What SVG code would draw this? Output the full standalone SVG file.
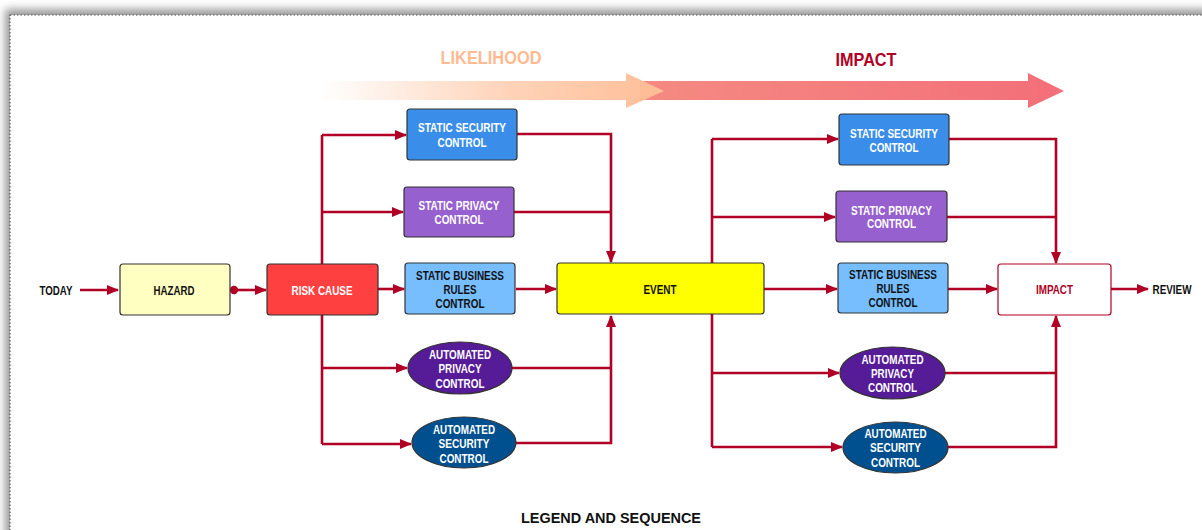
<svg xmlns="http://www.w3.org/2000/svg" width="1202" height="530" viewBox="0 0 1202 530">
  <defs>
    <style>
      .lbl { font-family: "Liberation Sans", Arial, sans-serif; font-weight: bold; font-size: 12.5px; text-anchor: middle; }
      .w { fill: #ffffff; }
      .k { fill: #111111; }
      .box { stroke: #333333; stroke-width: 1.2; }
      .wire { fill: none; stroke: #B00025; stroke-width: 2.6; }
      .arr { marker-end: url(#head); }
    </style>
    <marker id="head" markerUnits="userSpaceOnUse" markerWidth="12" markerHeight="10" refX="11" refY="5" orient="auto">
      <path d="M0,0 L12,5 L0,10 z" fill="#B00025"/>
    </marker>
    <linearGradient id="likeGrad" x1="320" y1="0" x2="664" y2="0" gradientUnits="userSpaceOnUse">
      <stop offset="0" stop-color="#FFC09A" stop-opacity="0"/>
      <stop offset="0.55" stop-color="#FFC09A" stop-opacity="0.7"/>
      <stop offset="1" stop-color="#FFBE97"/>
    </linearGradient>
    <linearGradient id="impGrad" x1="640" y1="0" x2="1064" y2="0" gradientUnits="userSpaceOnUse">
      <stop offset="0" stop-color="#F58A82"/>
      <stop offset="1" stop-color="#F36F79"/>
    </linearGradient>
    <filter id="shade" x="-5%" y="-5%" width="110%" height="110%">
      <feGaussianBlur stdDeviation="4"/>
    </filter>
  </defs>

  <!-- page with soft drop shadow -->
  <rect x="0" y="0" width="1202" height="530" fill="#ffffff"/>
  <rect x="5" y="9" width="1260" height="600" fill="#9a9a9a" filter="url(#shade)"/>
  <rect x="10" y="15" width="1250" height="560" fill="#ffffff" stroke="#555555" stroke-width="1.2" stroke-dasharray="1.5 2"/>

  <!-- phase arrows -->
  <g id="impact-band">
    <polygon points="640,81 1028,81 1028,73 1064,91 1028,108 1028,100 640,100" fill="url(#impGrad)"/>
  </g>
  <g id="likelihood-band">
    <polygon points="320,81 626,81 626,73 664,91 626,108 626,100 320,100" fill="url(#likeGrad)"/>
  </g>
  <text x="491" y="64" class="lbl" style="font-size:19px" fill="#FFBA92" textLength="101" lengthAdjust="spacingAndGlyphs">LIKELIHOOD</text>
  <text x="866" y="66" class="lbl" style="font-size:19px" fill="#B00025" textLength="61" lengthAdjust="spacingAndGlyphs">IMPACT</text>

  <!-- connectors -->
  <g id="connectors">
    <path class="wire arr" d="M80,290 H118"/>
    <circle cx="234" cy="290" r="4.2" fill="#B00025"/>
    <path class="wire arr" d="M234,290 H266"/>
    <path class="wire" d="M322,135 V444"/>
    <path class="wire arr" d="M322,135 H406"/>
    <path class="wire arr" d="M322,212 H403"/>
    <path class="wire arr" d="M378,289 H404"/>
    <path class="wire arr" d="M322,368 H407"/>
    <path class="wire arr" d="M322,444 H411"/>

    <path class="wire arr" d="M517,134 H611 V262"/>
    <path class="wire" d="M514,212 H611"/>
    <path class="wire arr" d="M516,289 H556"/>
    <path class="wire" d="M512,368 H611"/>
    <path class="wire arr" d="M516,443 H611 V316"/>

    <path class="wire" d="M712,139 V447"/>
    <path class="wire arr" d="M764,289 H837"/>
    <path class="wire arr" d="M712,139 H838"/>
    <path class="wire arr" d="M712,217 H835"/>
    <path class="wire arr" d="M712,373 H839"/>
    <path class="wire arr" d="M712,447 H842"/>

    <path class="wire arr" d="M949,139 H1056 V263"/>
    <path class="wire" d="M947,217 H1056"/>
    <path class="wire arr" d="M948,289 H997"/>
    <path class="wire" d="M945,373 H1056"/>
    <path class="wire arr" d="M948,447 H1056 V316"/>
    <path class="wire arr" d="M1111,289 H1148"/>
  </g>

  <!-- start / end labels -->
  <g id="today">
    <text x="56" y="294.5" class="lbl k" textLength="33" lengthAdjust="spacingAndGlyphs">TODAY</text>
  </g>
  <g id="review">
    <text x="1172" y="294" class="lbl k" textLength="39" lengthAdjust="spacingAndGlyphs">REVIEW</text>
  </g>

  <g id="hazard">
    <rect x="120" y="264" width="110" height="51" rx="3" fill="#FFFFC2" class="box"/>
    <text x="174" y="294.5" class="lbl k" textLength="41" lengthAdjust="spacingAndGlyphs">HAZARD</text>
  </g>

  <g id="risk-cause">
    <rect x="267" y="264" width="111" height="51" rx="3" fill="#FF4040" class="box"/>
    <text x="322" y="294.5" class="lbl w" textLength="61" lengthAdjust="spacingAndGlyphs">RISK CAUSE</text>
  </g>

  <!-- likelihood controls -->
  <g id="static-security-l">
    <rect x="407" y="109" width="110" height="51" rx="3" fill="#3A8EEA" class="box"/>
    <text x="462" y="131.5" class="lbl w" textLength="88" lengthAdjust="spacingAndGlyphs">STATIC SECURITY</text>
    <text x="462" y="146.5" class="lbl w" textLength="49" lengthAdjust="spacingAndGlyphs">CONTROL</text>
  </g>
  <g id="static-privacy-l">
    <rect x="404" y="187" width="110" height="50" rx="3" fill="#9660CE" class="box"/>
    <text x="459" y="209.5" class="lbl w" textLength="81" lengthAdjust="spacingAndGlyphs">STATIC PRIVACY</text>
    <text x="459" y="223.5" class="lbl w" textLength="49" lengthAdjust="spacingAndGlyphs">CONTROL</text>
  </g>
  <g id="static-business-l">
    <rect x="405" y="263" width="110" height="51" rx="3" fill="#76BEFF" class="box"/>
    <text x="460" y="279.5" class="lbl k" textLength="88" lengthAdjust="spacingAndGlyphs">STATIC BUSINESS</text>
    <text x="460" y="293.5" class="lbl k" textLength="33" lengthAdjust="spacingAndGlyphs">RULES</text>
    <text x="460" y="307.5" class="lbl k" textLength="49" lengthAdjust="spacingAndGlyphs">CONTROL</text>
  </g>
  <g id="automated-privacy-l">
    <ellipse cx="460" cy="368" rx="52" ry="26" fill="#561C98" class="box"/>
    <text x="460" y="358.5" class="lbl w" textLength="62" lengthAdjust="spacingAndGlyphs">AUTOMATED</text>
    <text x="460" y="372.5" class="lbl w" textLength="43" lengthAdjust="spacingAndGlyphs">PRIVACY</text>
    <text x="460" y="387.5" class="lbl w" textLength="49" lengthAdjust="spacingAndGlyphs">CONTROL</text>
  </g>
  <g id="automated-security-l">
    <ellipse cx="464" cy="442.5" rx="52" ry="25.5" fill="#00508F" class="box"/>
    <text x="464" y="433.5" class="lbl w" textLength="62" lengthAdjust="spacingAndGlyphs">AUTOMATED</text>
    <text x="464" y="447.5" class="lbl w" textLength="51" lengthAdjust="spacingAndGlyphs">SECURITY</text>
    <text x="464" y="462.5" class="lbl w" textLength="49" lengthAdjust="spacingAndGlyphs">CONTROL</text>
  </g>

  <g id="event">
    <rect x="557" y="263" width="207" height="51" rx="3" fill="#FFFF00" class="box"/>
    <text x="660" y="293.5" class="lbl k" textLength="33" lengthAdjust="spacingAndGlyphs">EVENT</text>
  </g>

  <!-- impact controls -->
  <g id="static-security-r">
    <rect x="839" y="114" width="110" height="51" rx="3" fill="#3A8EEA" class="box"/>
    <text x="894" y="137.5" class="lbl w" textLength="88" lengthAdjust="spacingAndGlyphs">STATIC SECURITY</text>
    <text x="894" y="151.5" class="lbl w" textLength="49" lengthAdjust="spacingAndGlyphs">CONTROL</text>
  </g>
  <g id="static-privacy-r">
    <rect x="836" y="191" width="111" height="51" rx="3" fill="#9660CE" class="box"/>
    <text x="891.5" y="214.5" class="lbl w" textLength="81" lengthAdjust="spacingAndGlyphs">STATIC PRIVACY</text>
    <text x="891.5" y="228" class="lbl w" textLength="49" lengthAdjust="spacingAndGlyphs">CONTROL</text>
  </g>
  <g id="static-business-r">
    <rect x="838" y="263" width="110" height="50" rx="3" fill="#76BEFF" class="box"/>
    <text x="893" y="278.5" class="lbl k" textLength="88" lengthAdjust="spacingAndGlyphs">STATIC BUSINESS</text>
    <text x="893" y="292.5" class="lbl k" textLength="33" lengthAdjust="spacingAndGlyphs">RULES</text>
    <text x="893" y="306.5" class="lbl k" textLength="49" lengthAdjust="spacingAndGlyphs">CONTROL</text>
  </g>
  <g id="automated-privacy-r">
    <ellipse cx="892.5" cy="373" rx="52.5" ry="26" fill="#561C98" class="box"/>
    <text x="892.5" y="363.5" class="lbl w" textLength="62" lengthAdjust="spacingAndGlyphs">AUTOMATED</text>
    <text x="892.5" y="377.5" class="lbl w" textLength="43" lengthAdjust="spacingAndGlyphs">PRIVACY</text>
    <text x="892.5" y="391.5" class="lbl w" textLength="49" lengthAdjust="spacingAndGlyphs">CONTROL</text>
  </g>
  <g id="automated-security-r">
    <ellipse cx="895.5" cy="447.5" rx="52.5" ry="25.5" fill="#00508F" class="box"/>
    <text x="895.5" y="437.5" class="lbl w" textLength="62" lengthAdjust="spacingAndGlyphs">AUTOMATED</text>
    <text x="895.5" y="451.5" class="lbl w" textLength="51" lengthAdjust="spacingAndGlyphs">SECURITY</text>
    <text x="895.5" y="466.5" class="lbl w" textLength="49" lengthAdjust="spacingAndGlyphs">CONTROL</text>
  </g>

  <g id="impact">
    <rect x="998" y="264" width="113" height="51" rx="3" fill="#ffffff" stroke="#B00025" stroke-width="1.2"/>
    <text x="1054.5" y="294" class="lbl" fill="#B00025" textLength="37" lengthAdjust="spacingAndGlyphs">IMPACT</text>
  </g>

  <text x="611" y="523" class="lbl k" style="font-size:15px" textLength="180" lengthAdjust="spacingAndGlyphs">LEGEND AND SEQUENCE</text>
</svg>
